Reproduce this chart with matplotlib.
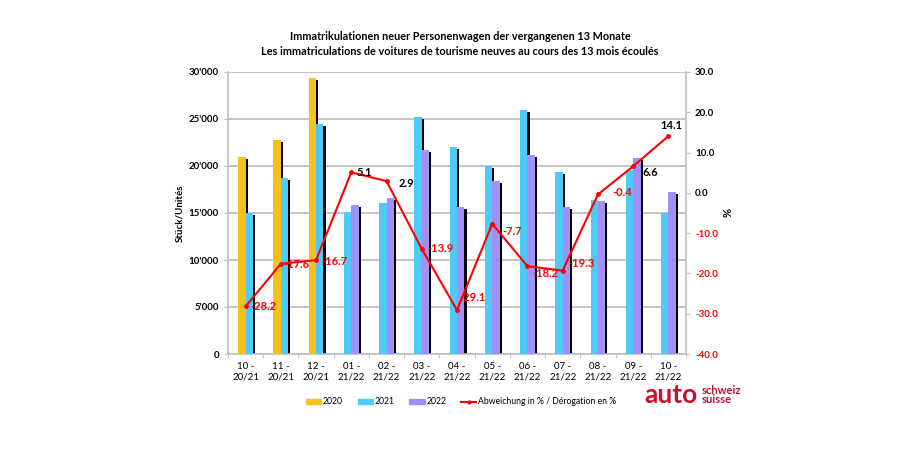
import matplotlib
matplotlib.use("Agg")
import matplotlib.pyplot as plt
import numpy as np
from matplotlib.patches import Patch
from matplotlib.lines import Line2D

plt.rcParams['font.family'] = ['Lato', 'DejaVu Sans']

# data
months = ["10 -\n20/21", "11 -\n20/21", "12 -\n20/21", "01 -\n21/22", "02 -\n21/22",
          "03 -\n21/22", "04 -\n21/22", "05 -\n21/22", "06 -\n21/22", "07 -\n21/22",
          "08 -\n21/22", "09 -\n21/22", "10 -\n21/22"]
units_2020 = [21000, 22800, 29400]
units_2021 = [15000, 18700, 24500, 15100, 16100, 25200, 22000, 20000, 26000, 19400, 16400, 19600, 15000]
units_2022 = [15900, 16600, 21700, 15600, 18400, 21200, 15600, 16300, 20900, 17200]
pct_change = [-28.2, -17.6, -16.7, 5.1, 2.9, -13.9, -29.1, -7.7, -18.2, -19.3, -0.4, 6.6, 14.1]

# label offsets (pixels) for the percentage labels
label_offsets = [(5, 0), (3, -1), (5, -1), (5, 0), (12, -2), (6, 0), (2, 13),
                 (10, -8), (5, -7), (6, 7), (14, 2), (9, -6), (-8, 11)]

c2020 = "#F5C21C"
c2021 = "#4DC9FA"
c2022 = "#A290F7"
red = "#FF0000"
grey = "#BFBFBF"

fig = plt.figure(figsize=(9.2, 4.5), dpi=100)
ax = fig.add_axes([228 / 920, 1 - 354 / 450, (686 - 228) / 920, (354 - 72) / 450])

x = np.arange(len(months))
w = 0.21
sh = 0.06


def draw_bars(xs, vals, color):
    xs = np.asarray(xs, dtype=float)
    vals = np.asarray(vals, dtype=float)
    ax.bar(xs + sh, vals - 220, width=w, color="black", zorder=2, align="center")
    ax.bar(xs, vals, width=w, color=color, zorder=3, align="center")


n20 = len(units_2020)
draw_bars(x[:n20] - w / 2, units_2020, c2020)
x21 = np.where(x < n20, x + w / 2, x - w / 2)
draw_bars(x21, units_2021, c2021)
draw_bars(x[n20:] + w / 2, units_2022, c2022)

ax.set_xlim(-0.5, len(months) - 0.5)
ax.set_ylim(0, 30000)
ax.set_yticks(np.arange(0, 30001, 5000))
ax.set_yticklabels([f"{v:,}".replace(",", "'") for v in range(0, 30001, 5000)],
                   fontsize=7, fontweight="bold")
ax.set_xticks(x)
ax.set_xticklabels(months, fontsize=7)
ax.set_xticks(np.arange(-0.5, len(months), 1), minor=True)
ax.tick_params(axis="x", which="major", length=0, pad=6)
ax.tick_params(axis="x", which="minor", length=3, color=grey)
ax.tick_params(axis="y", length=3, color=grey)
ax.grid(axis="y", color=grey, lw=1.3, zorder=0)
ax.set_axisbelow(True)
for s in ["left", "bottom", "right"]:
    ax.spines[s].set_color(grey)
    ax.spines[s].set_linewidth(1.2)
ax.spines["top"].set_visible(False)
ax.set_ylabel("Stück/Unités", fontsize=7, fontweight="bold", labelpad=3)

ax2 = ax.twinx()
ax2.set_ylim(-40, 30)
ax2.set_yticks(np.arange(-40, 31, 10))
ax2.set_yticklabels([f"{v:.1f}" for v in range(-40, 31, 10)], fontsize=7, fontweight="bold")
for t, v in zip(ax2.get_yticklabels(), range(-40, 31, 10)):
    t.set_color(red if v < 0 else "black")
ax2.tick_params(axis="y", length=3, color=grey)
for s in ["left", "bottom", "right", "top"]:
    ax2.spines[s].set_visible(False)
ax2.set_ylabel("%", fontsize=8, fontweight="bold", labelpad=3)

ax2.plot(x, pct_change, color=red, lw=1.5, marker="o", ms=2.5, zorder=5)
for xi, v, off in zip(x, pct_change, label_offsets):
    ax2.annotate(f"{v:.1f}", (xi, v), xytext=off, textcoords="offset pixels",
                 ha="left", va="center", fontsize=8, fontweight="bold",
                 color=red if v < 0 else "black", zorder=6)

fig.text(460 / 920, 1 - 44 / 450,
         "Immatrikulationen neuer Personenwagen der vergangenen 13 Monate\n"
         "Les immatriculations de voitures de tourisme neuves au cours des 13 mois écoulés",
         ha="center", va="center", fontsize=7.8, fontweight="bold", linespacing=1.5)

handles = [Patch(color=c2020, label="2020"), Patch(color=c2021, label="2021"),
           Patch(color=c2022, label="2022"),
           Line2D([], [], color=red, lw=1.5, marker="o", ms=2,
                  label="Abweichung in % / Dérogation en %")]
fig.legend(handles=handles, loc="center", bbox_to_anchor=(461 / 920, 1 - 402 / 450),
           ncol=4, frameon=False, fontsize=6.2, handlelength=1.75, handleheight=0.45,
           columnspacing=1.75, handletextpad=0.2)

logo = "#C8102E"
fig.text(644 / 920, 1 - 403 / 450, "auto", ha="left", va="baseline", fontsize=19,
         fontweight="bold", color=logo)
fig.text(702 / 920, 1 - 403 / 450, "schweiz\nsuisse", ha="left", va="baseline",
         fontsize=8, fontweight="bold", color=logo, linespacing=0.8)

fig.savefig("out.png", dpi=100)
